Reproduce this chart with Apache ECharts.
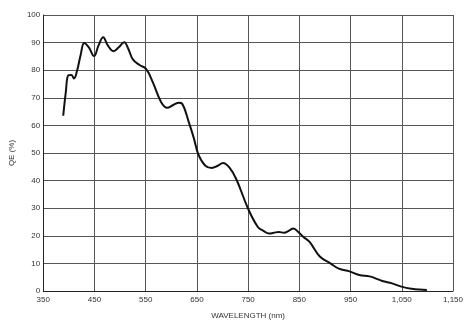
<!DOCTYPE html>
<html>
<head>
<meta charset="utf-8">
<style>
  html, body { margin: 0; padding: 0; background: #fff; }
  #chart { width: 466px; height: 325px; }
</style>
<script src="https://cdn.jsdelivr.net/npm/echarts@6/dist/echarts.min.js"></script>
</head>
<body>
<div id="chart"></div>
<script>
// wavelength (nm) and QE (%)
const wavelengths = [389, 394, 399, 405, 410, 416, 423, 430, 439, 449, 458, 467, 476, 487, 497, 508, 516, 525, 538, 551, 564, 580, 592, 604, 615, 621, 634, 644, 653, 666, 679, 690, 701, 714, 727, 750, 769, 780, 791, 800, 810, 820, 830, 838, 850, 858, 870, 890, 910, 927, 948, 967, 987, 1000, 1012, 1031, 1051, 1070, 1085, 1099];
const qe = [63.5, 72, 78.2, 78.3, 77, 79.8, 85.5, 89.9, 88.3, 85.1, 89, 91.9, 89, 86.9, 88.2, 90.1, 87.8, 83.9, 81.9, 80.4, 75.6, 68.5, 66.4, 67.4, 68.2, 67.9, 61.3, 55.4, 49.4, 45.5, 44.6, 45.3, 46.4, 44.6, 40.5, 29.8, 23.2, 21.8, 20.8, 21.1, 21.4, 21.1, 21.9, 22.6, 21, 19.6, 17.8, 12.5, 10.1, 8.1, 7.1, 5.8, 5.3, 4.5, 3.6, 2.75, 1.5, 0.8, 0.5, 0.36];
const xMin = 350, xMax = 1150, xStep = 100;
const yMin = 0, yMax = 100, yStep = 10;

const chart = echarts.init(document.getElementById('chart'));
const labelFont = { color: '#333', fontSize: 8, fontFamily: 'Liberation Sans, Arial, sans-serif' };
const gridLine = { show: true, lineStyle: { color: '#555', width: 1 } };

chart.setOption({
  animation: false,
  grid: { left: 39, right: 11, top: 15, bottom: 30, containLabel: false },
  xAxis: {
    type: 'value',
    min: xMin, max: xMax, interval: xStep,
    name: 'WAVELENGTH (nm)',
    nameLocation: 'middle',
    nameGap: 21,
    nameTextStyle: labelFont,
    axisLine: { show: true, lineStyle: { color: '#222', width: 1 } },
    axisTick: { show: false },
    axisLabel: Object.assign({ margin: 5, formatter: v => v.toLocaleString('en-US') }, labelFont),
    splitLine: gridLine
  },
  yAxis: {
    type: 'value',
    min: yMin, max: yMax, interval: yStep,
    name: 'QE (%)',
    nameLocation: 'middle',
    nameGap: 21,
    nameRotate: 90,
    nameTextStyle: labelFont,
    axisLine: { show: true, lineStyle: { color: '#222', width: 1 } },
    axisTick: { show: false },
    axisLabel: Object.assign({ margin: 3 }, labelFont),
    splitLine: gridLine
  },
  series: [{
    type: 'line',
    data: wavelengths.map((w, i) => [w, qe[i]]),
    smooth: 0.4,
    showSymbol: false,
    lineStyle: { color: '#111', width: 2 }
  }]
});
</script>
</body>
</html>
